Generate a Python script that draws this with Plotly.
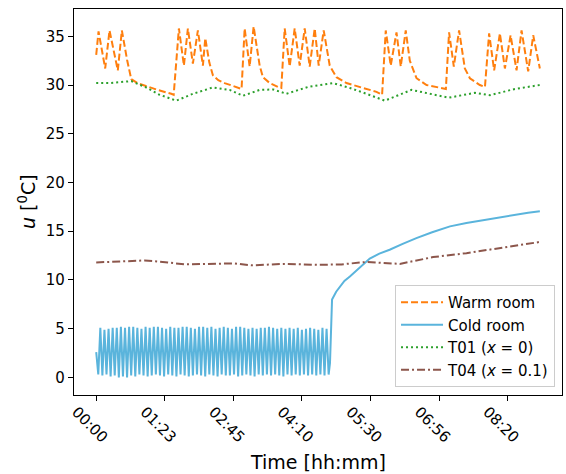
import numpy as np
import plotly.graph_objects as go

# ---------------- data (x in tick units: 0 = first tick, 1 = next tick, ...) ----------------
tick_labels = ["00:00", "01:23", "02:45", "04:10", "05:30", "06:56", "08:20"]
tick_pos = [0, 1, 2, 3, 4, 5, 6]

warm_t = [0, 0.034, 0.131, 0.194, 0.315, 0.374, 0.45, 0.511, 0.60, 0.676, 0.895, 1.095, 1.13,
          1.206, 1.279, 1.337, 1.410, 1.483, 1.556, 1.591, 1.65, 1.702, 1.78, 1.873, 2.067, 2.12,
          2.165, 2.238, 2.296, 2.35, 2.384, 2.432, 2.531, 2.651, 2.70,
          2.749, 2.822, 2.895, 2.968, 3.041, 3.114, 3.187, 3.245, 3.318, 3.37, 3.406, 3.504,
          3.650, 3.892, 4.088, 4.170, 4.223, 4.296, 4.380, 4.442, 4.515, 4.574, 4.672, 4.818,
          5.060, 5.100, 5.147, 5.216, 5.293, 5.377, 5.450, 5.596, 5.670, 5.731, 5.804, 5.888,
          5.961, 6.044, 6.131, 6.204, 6.301, 6.374, 6.471]
warm_u = [33.1, 35.5, 31.7, 35.6, 31.5, 35.6, 32.6, 30.6, 30.2, 30.0, 29.5, 29.1, 29.0,
          35.8, 32.0, 35.8, 32.2, 35.6, 32.0, 34.8, 32.3, 31.0, 30.5, 30.2, 29.7, 29.6,
          35.8, 31.9, 36.0, 33.5, 32.0, 30.8, 30.2, 29.8, 29.7,
          35.8, 31.9, 35.8, 32.0, 35.8, 31.9, 35.8, 32.0, 35.6, 33.2, 32.0, 30.8,
          30.2, 29.7, 29.3, 29.0, 35.6, 32.0, 35.4, 31.9, 35.6, 32.5, 30.7, 30.0,
          29.7, 29.6, 35.4, 31.9, 35.6, 31.7, 30.7, 30.0, 29.8, 35.3, 31.5, 35.3,
          31.7, 35.1, 31.5, 35.6, 31.4, 35.1, 31.7]

# cold room: fast on/off oscillation (sampled evenly until the switch), then slow rise
cold_osc = [2.6, 0.3, 5.1, 0.2, 4.9, 0.3, 5.0, 0.1, 5.1, 0.2, 5.1, 0.0, 5.2, 0.1, 5.1, 0.0,
            5.2, 0.2, 5.2, 0.1, 5.1, 0.3, 5.0, 0.2, 5.2, 0.1, 5.1, 0.2, 5.2, 0.3, 5.2, 0.2,
            5.1, 0.1, 5.0, 0.3, 5.2, 0.2, 5.1, 0.1, 5.1, 0.3, 5.2, 0.2, 5.2, 0.1, 5.1, 0.2,
            5.0, 0.3, 5.2, 0.2, 5.2, 0.1, 5.1, 0.3, 5.2, 0.2, 5.0, 0.1, 5.1, 0.3, 5.2, 0.2,
            5.1, 0.2, 5.0, 0.3, 5.2, 0.1, 5.2, 0.2, 5.1, 0.3, 5.0, 0.2, 5.1, 0.1, 5.0, 0.3,
            5.1, 0.2, 5.1, 0.3, 5.2, 0.2, 5.1, 0.3, 5.0, 0.2, 5.1, 0.1, 5.0, 0.3, 5.1, 0.2,
            5.0, 0.3, 5.1, 0.2, 4.9, 0.3, 5.0, 0.2, 5.1, 0.3, 5.0, 0.2, 4.9, 0.3, 5.1, 0.2,
            5.0, 0.3]
cold_osc_end = 3.39
cold_rise_t = [3.41, 3.425, 3.44, 3.50, 3.55, 3.62, 3.70, 3.80, 3.89, 3.99, 4.13, 4.28, 4.47,
               4.67, 4.90, 5.16, 5.40, 5.64, 5.88, 6.13, 6.30, 6.471]
cold_rise_u = [1.5, 6.5, 8.0, 8.8, 9.3, 9.9, 10.35, 11.0, 11.55, 12.2, 12.7, 13.1, 13.7,
               14.3, 14.9, 15.5, 15.85, 16.15, 16.45, 16.7, 16.9, 17.05]

t01_t = [0, 0.194, 0.511, 0.73, 0.924, 1.168, 1.41, 1.70, 1.946, 2.14, 2.384, 2.578, 2.774,
         3.09, 3.454, 3.70, 3.942, 4.209, 4.599, 4.89, 5.143, 5.523, 5.742, 6.107, 6.471]
t01_u = [30.2, 30.2, 30.4, 29.75, 29.0, 28.4, 29.1, 29.75, 29.5, 28.9, 29.5, 29.55, 29.1,
         29.8, 30.2, 29.7, 29.1, 28.4, 29.5, 29.05, 28.7, 29.2, 28.95, 29.6, 30.0]

t04_t = [0, 0.705, 1.045, 1.289, 2.019, 2.263, 2.749, 3.235, 3.577, 3.942, 4.428, 4.914,
         5.40, 5.79, 6.471]
t04_u = [11.8, 12.0, 11.8, 11.6, 11.7, 11.5, 11.65, 11.55, 11.6, 11.85, 11.65, 12.35,
         12.75, 13.15, 13.9]

# ---------------- figure ----------------
cold_t = list(np.linspace(0, cold_osc_end, len(cold_osc))) + cold_rise_t
cold_u = cold_osc + cold_rise_u

FONT = "DejaVu Sans"
fig = go.Figure()
fig.add_trace(go.Scatter(x=warm_t, y=warm_u, mode="lines", name="Warm room",
                         line=dict(color="#ff7f0e", width=2, dash="7px,3px")))
fig.add_trace(go.Scatter(x=cold_t, y=cold_u, mode="lines", name="Cold room",
                         line=dict(color="#5ab4dc", width=2)))
fig.add_trace(go.Scatter(x=t01_t, y=t01_u, mode="lines", name="T01 (<i>x</i> = 0)",
                         line=dict(color="#2ca02c", width=2, dash="2px,3px")))
fig.add_trace(go.Scatter(x=t04_t, y=t04_u, mode="lines", name="T04 (<i>x</i> = 0.1)",
                         line=dict(color="#8c564b", width=2, dash="8px,3px,2px,3px")))

axis_common = dict(showline=True, mirror=True, linecolor="black", linewidth=1.2,
                   showgrid=False, zeroline=False, ticks="outside", ticklen=5,
                   tickcolor="black", tickwidth=1.2, automargin=False,
                   tickfont=dict(family=FONT, size=15, color="black"))

fig.update_layout(
    width=566, height=474,
    margin=dict(l=74, r=4, t=9, b=79),
    paper_bgcolor="white", plot_bgcolor="white",
    font=dict(family=FONT, color="black"),
    xaxis=dict(range=[-0.324, 6.794], tickvals=tick_pos, ticktext=tick_labels,
               tickangle=45, ticklabelshift=-20, ticklabelstandoff=-4,
               **axis_common),
    yaxis=dict(range=[-1.8, 37.8], tickvals=[0, 5, 10, 15, 20, 25, 30, 35],
               **axis_common),
    legend=dict(x=0.9857, xanchor="right", y=0.0207, yanchor="bottom",
                bgcolor="rgba(255,255,255,0.8)", bordercolor="#cccccc", borderwidth=1,
                font=dict(family=FONT, size=15), tracegroupgap=0, itemwidth=42),
    showlegend=True,
    annotations=[
        dict(text="Time [hh:mm]", xref="paper", yref="paper", x=0.5, y=-0.1736,
             xanchor="center", yanchor="middle", showarrow=False,
             font=dict(family=FONT, size=19, color="black")),
        dict(text="<i>u</i> [<sup>0</sup>C]", xref="paper", yref="paper", x=-0.0963, y=0.5,
             xanchor="center", yanchor="middle", textangle=-90, showarrow=False,
             font=dict(family=FONT, size=19, color="black")),
    ],
)

fig.write_html("out.html", config={"displayModeBar": False},
               post_script="document.body.style.margin='0';document.body.style.padding='0';")
